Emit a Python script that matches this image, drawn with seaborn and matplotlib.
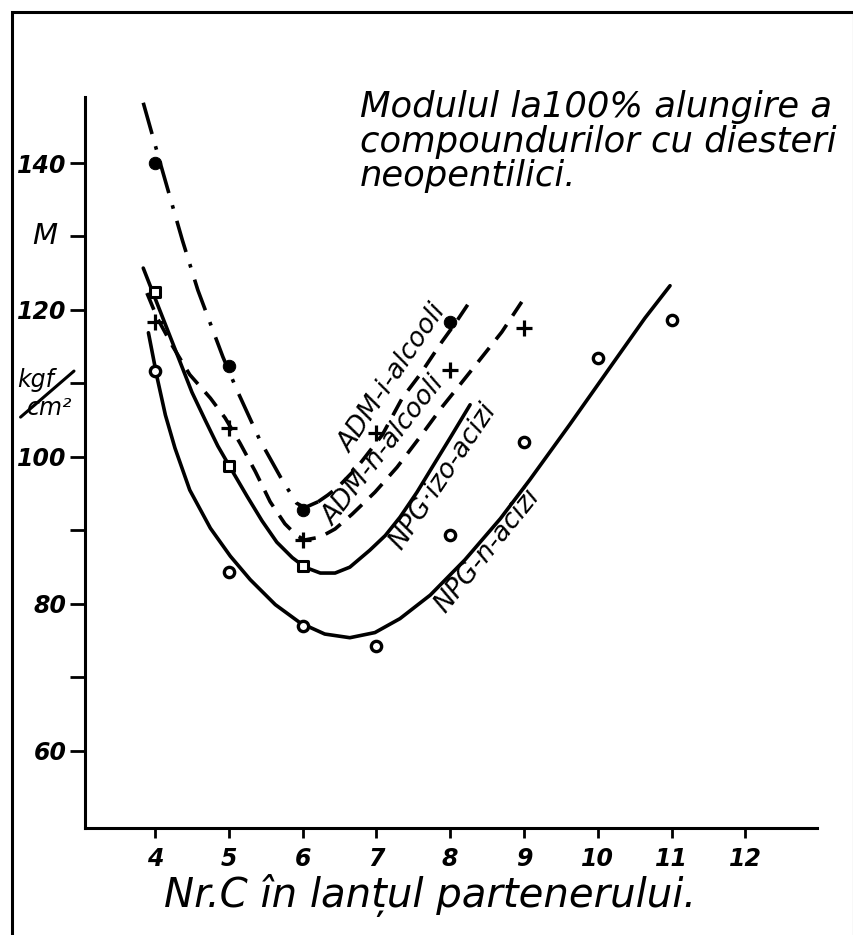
import matplotlib.pyplot as plt
import matplotlib.lines as mlines
import matplotlib.patches as mpatches
import seaborn as sns

sns.set_style("ticks", {'axes.edgecolor': 'black', 'text.color': 'black', 'axes.labelcolor': 'black',
                        'xtick.color': 'black', 'ytick.color': 'black'})
plt.rcParams['font.family'] = ['DejaVu Sans']

# measured points: number of C atoms vs modulus (kgf/cm2)
adm_i_x = [4, 5, 6, 8]
adm_i_y = [140.0, 112.4, 92.8, 118.4]
adm_n_x = [4, 5, 6, 7, 8, 9]
adm_n_y = [118.4, 104.0, 88.7, 103.3, 111.8, 117.6]
npg_izo_x = [4, 5, 6]
npg_izo_y = [122.4, 98.8, 85.2]
npg_n_x = [4, 5, 6, 7, 8, 9, 10, 11]
npg_n_y = [111.7, 84.4, 77.0, 74.3, 89.4, 102.0, 113.5, 118.6]

# hand drawn curves
adm_i_curve1_x = [3.84, 4.07, 4.37, 4.58, 4.77, 4.92, 5.11, 5.42, 5.72, 5.92, 6.03, 6.21]
adm_i_curve1_y = [148.2, 140.0, 129.5, 122.7, 117.6, 113.6, 109.1, 102.3, 96.9, 93.7, 93.1, 93.9]
adm_i_curve2_x = [6.21, 6.34, 6.48, 6.74, 7.08, 7.35, 7.59, 7.89, 8.07, 8.31]
adm_i_curve2_y = [93.9, 94.8, 95.9, 98.6, 103.0, 108.0, 111.2, 115.7, 118.2, 121.8]
adm_n_curve_x = [3.89, 4.03, 4.23, 4.47, 4.75, 4.95, 5.15, 5.36, 5.56, 5.76, 5.92, 6.03, 6.24,
                 6.44, 6.67, 6.98, 7.28, 7.59, 7.89, 8.13, 8.40, 8.70, 8.97]
adm_n_curve_y = [122.3, 118.9, 115.2, 111.2, 108.0, 105.3, 101.9, 98.0, 93.9, 90.9, 89.3, 88.7,
                 89.1, 90.2, 92.2, 95.2, 98.6, 102.7, 106.8, 109.8, 113.2, 117.0, 121.1]
npg_izo_curve_x = [3.84, 4.00, 4.18, 4.34, 4.50, 4.68, 4.85, 5.04, 5.25, 5.45, 5.65, 5.86, 6.03,
                   6.24, 6.44, 6.64, 6.91, 7.12, 7.32, 7.55, 7.75, 8.00, 8.27]
npg_izo_curve_y = [125.7, 121.6, 117.0, 112.9, 108.8, 105.0, 101.5, 98.2, 94.6, 91.3, 88.4, 86.3,
                   85.0, 84.2, 84.2, 85.0, 87.3, 89.3, 91.8, 95.2, 98.5, 102.6, 107.1]
npg_n_curve_x = [3.91, 4.03, 4.14, 4.27, 4.47, 4.75, 5.02, 5.29, 5.63, 5.97, 6.30, 6.64, 6.98,
                 7.32, 7.73, 8.20, 8.68, 9.08, 9.62, 10.21, 10.64, 10.98]
npg_n_curve_y = [116.9, 110.7, 105.7, 101.2, 95.5, 90.3, 86.5, 83.3, 79.9, 77.4, 75.9, 75.4, 76.1,
                 78.0, 81.2, 86.0, 91.6, 96.9, 104.4, 112.8, 118.9, 123.3]

x_ticks = [4, 5, 6, 7, 8, 9, 10, 11, 12]
y_ticks = [60, 70, 80, 90, 100, 110, 120, 130, 140]
y_tick_labels = ['60', '', '80', '', '100', '', '120', '', '140']

title = "Modulul la100% alungire a\ncompoundurilor cu diesteri\nneopentilici."
x_label = "Nr.C în lanțul partenerului."

fig = plt.figure(figsize=(8.54, 9.35), dpi=100)
ax = fig.add_axes([0.0995, 0.1144, 0.857, 0.782])

lw = 2.6
dash_dot = (0, (9, 3.5, 1, 3.5))
dashed = (0, (5, 3))

sns.lineplot(x=adm_i_curve1_x, y=adm_i_curve1_y, sort=False, estimator=None, color='black',
             lw=lw, linestyle=dash_dot, ax=ax)
sns.lineplot(x=adm_i_curve2_x, y=adm_i_curve2_y, sort=False, estimator=None, color='black',
             lw=lw, linestyle=dashed, ax=ax)
sns.lineplot(x=adm_n_curve_x, y=adm_n_curve_y, sort=False, estimator=None, color='black',
             lw=lw, linestyle=dashed, ax=ax)
sns.lineplot(x=npg_izo_curve_x, y=npg_izo_curve_y, sort=False, estimator=None, color='black',
             lw=lw, ax=ax)
sns.lineplot(x=npg_n_curve_x, y=npg_n_curve_y, sort=False, estimator=None, color='black',
             lw=lw, ax=ax)

sns.scatterplot(x=adm_i_x, y=adm_i_y, marker='o', s=80, color='black', edgecolor='black', ax=ax, zorder=5)
sns.scatterplot(x=adm_n_x, y=adm_n_y, marker='+', s=140, color='black', linewidth=2.3, ax=ax, zorder=5)
sns.scatterplot(x=npg_izo_x, y=npg_izo_y, marker='s', s=55, facecolor='white', edgecolor='black',
                linewidth=2.2, ax=ax, zorder=5)
sns.scatterplot(x=npg_n_x, y=npg_n_y, marker='o', s=55, facecolor='white', edgecolor='black',
                linewidth=2.4, ax=ax, zorder=5)

ax.set_xlim(3.05, 12.97)
ax.set_ylim(49.5, 149.0)
sns.despine(ax=ax)
for side in ['left', 'bottom']:
    ax.spines[side].set_linewidth(2.2)

ax.set_xticks(x_ticks)
ax.set_xticklabels([str(t) for t in x_ticks], fontsize=17, style='italic', fontweight='bold')
ax.set_yticks(y_ticks)
ax.set_yticklabels(y_tick_labels, fontsize=17, style='italic', fontweight='bold')
ax.tick_params(axis='x', length=7, width=2, pad=7, direction='out')
ax.tick_params(axis='y', length=11, width=2, pad=2, direction='out')

ax.set_xlabel(x_label, fontsize=29, style='italic')
ax.xaxis.set_label_coords(0.471, -0.063)
ax.set_ylabel('')

# y axis unit labels
ax.text(-0.055, 0.81, "M", transform=ax.transAxes, fontsize=21, style='italic', ha='center', va='center')
ax.text(-0.068, 0.613, "kgf", transform=ax.transAxes, fontsize=17, style='italic', ha='center', va='center')
ax.text(-0.048, 0.575, "cm²", transform=ax.transAxes, fontsize=17, style='italic', ha='center', va='center')
ax.add_line(mlines.Line2D([-0.088, -0.015], [0.562, 0.625], transform=ax.transAxes, color='black',
                          lw=2.2, clip_on=False))

# curve labels
ax.text(7.22, 110.7, "ADM-i-alcooli", rotation=56, fontsize=19, style='italic', ha='center', va='center')
ax.text(7.10, 100.8, "ADM-n-alcooli", rotation=52, fontsize=19, style='italic', ha='center', va='center')
ax.text(7.90, 97.3, "NPG·izo-acizi", rotation=56, fontsize=19, style='italic', ha='center', va='center')
ax.text(8.51, 87.2, "NPG-n-acizi", rotation=51, fontsize=19, style='italic', ha='center', va='center')

fig.text(360 / 854, 1 - 90 / 935, title, fontsize=25.5, style='italic', ha='left', va='top', linespacing=1.02)

# frame around the drawing
fig.patches.append(mpatches.Rectangle((12 / 854, -0.01), 842 / 854, 1 - 12 / 935 + 0.01,
                                      transform=fig.transFigure, fill=False, lw=2.2, ec='black'))

fig.savefig("out.png", dpi=100)
